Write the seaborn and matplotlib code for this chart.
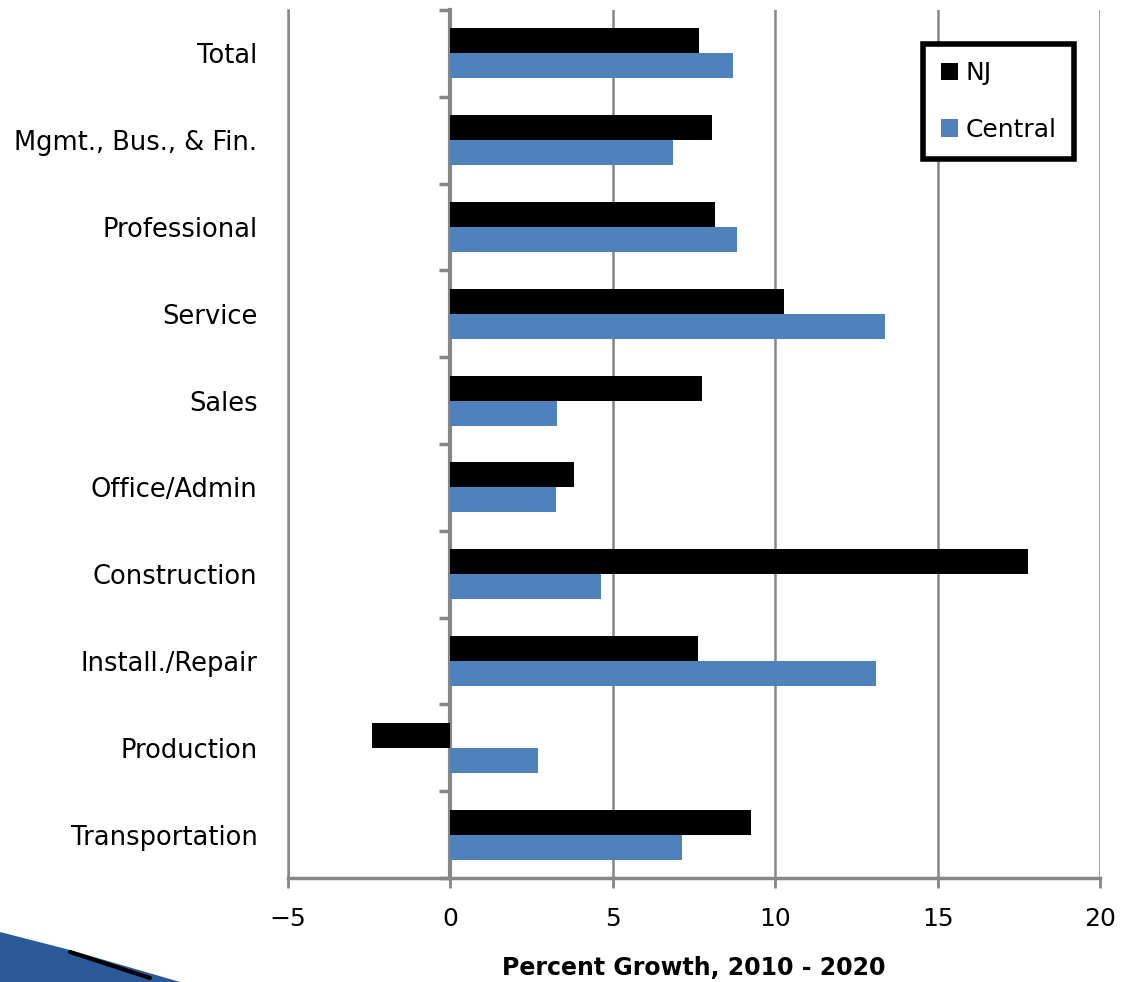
import matplotlib
matplotlib.use("Agg")
import matplotlib.pyplot as plt
from matplotlib.patches import Polygon
import seaborn as sns
import pandas as pd
import numpy as np

# Datos
categorias = ['Total', 'Mgmt., Bus., & Fin.', 'Professional', 'Service', 'Sales',
              'Office/Admin', 'Construction', 'Install./Repair', 'Production', 'Transportation']
nj = [7.66, 8.06, 8.15, 10.28, 7.75, 3.82, 17.78, 7.63, -2.4, 9.26]
central = [8.71, 6.86, 8.83, 13.38, 3.29, 3.26, 4.65, 13.11, 2.71, 7.14]
series = ['NJ', 'Central']
colores = ['#000000', '#4F81BD']

df = pd.DataFrame({
    'Categoria': categorias * 2,
    'Serie': ['NJ'] * len(categorias) + ['Central'] * len(categorias),
    'Valor': nj + central,
})

sns.set_style('white')
plt.rcParams['font.family'] = ['DejaVu Sans']
plt.rcParams['text.color'] = 'black'
plt.rcParams['axes.labelcolor'] = 'black'

fig = plt.figure(figsize=(11.21, 9.82), dpi=100)
ax = fig.add_axes([288 / 1121, 1 - 878 / 982, 812 / 1121, 868 / 982])

sns.barplot(data=df, y='Categoria', x='Valor', hue='Serie', hue_order=series,
            palette=colores, orient='h', width=0.575, linewidth=0, saturation=1,
            order=categorias, ax=ax)

gris = '#868686'
ax.set_xlim(-5, 20)
ax.set_ylim(len(categorias) - 0.5, -0.5)
ax.set_xticks(np.arange(-5, 21, 5))
ax.xaxis.grid(True, color=gris, linewidth=1.8)
ax.set_axisbelow(True)

for lado in ['top', 'right']:
    ax.spines[lado].set_visible(False)
ax.spines['left'].set_color(gris)
ax.spines['left'].set_linewidth(1.8)
ax.spines['bottom'].set_color(gris)
ax.spines['bottom'].set_linewidth(2.5)

ax.tick_params(axis='x', length=7, width=2, color=gris, labelsize=18, pad=14,
               direction='out', bottom=True, labelcolor='black')
ax.tick_params(axis='y', length=0, labelsize=18.5, pad=22, labelcolor='black')
ax.set_ylabel('')
ax.set_xlabel('Percent Growth, 2010 - 2020', fontsize=17, fontweight='bold', labelpad=18)

# Eje vertical en x = 0 con marcas entre categorías
eje0 = ax.secondary_yaxis(0.2)
eje0.spines['left'].set_color(gris)
eje0.spines['left'].set_linewidth(3)
eje0.set_yticks(np.arange(-0.5, len(categorias) + 0.5, 1))
eje0.set_yticklabels([])
eje0.tick_params(axis='y', length=8, width=2.5, color=gris, direction='out')

leg = ax.legend(loc='upper right', bbox_to_anchor=(0.968, 0.961), fontsize=18,
                frameon=True, fancybox=False, framealpha=1, borderaxespad=0,
                handlelength=0.7, handleheight=0.7, handletextpad=0.3,
                labelspacing=1.3, borderpad=0.7, title=None)
leg.get_frame().set_edgecolor('black')
leg.get_frame().set_linewidth(4)

# Decoración de la plantilla (esquina inferior izquierda)
fig.patches.append(Polygon([(0, 1 - 932 / 982), (70 / 1121, 1 - 950 / 982),
                            (180 / 1121, 0), (0, 0)], closed=True,
                           transform=fig.transFigure, facecolor='#2A5A9A', edgecolor='none'))
fig.lines.append(plt.Line2D([70 / 1121, 150 / 1121], [1 - 952 / 982, 1 - 978 / 982],
                            transform=fig.transFigure, color='black', linewidth=3))

fig.savefig('out.png', dpi=100)
